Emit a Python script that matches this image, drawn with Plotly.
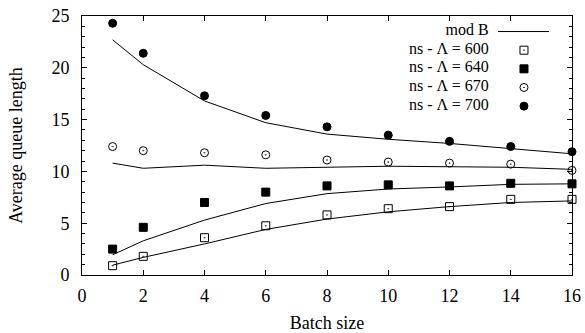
import plotly.graph_objects as go

batch = [1, 2, 4, 6, 8, 10, 12, 14, 16]

ns_600 = [0.9, 1.8, 3.6, 4.75, 5.8, 6.4, 6.6, 7.3, 7.3]
ns_640 = [2.5, 4.6, 7.0, 8.0, 8.6, 8.7, 8.6, 8.85, 8.8]
ns_670 = [12.4, 12.0, 11.8, 11.6, 11.1, 10.9, 10.8, 10.7, 10.1]
ns_700 = [24.3, 21.4, 17.3, 15.4, 14.3, 13.5, 12.9, 12.4, 11.9]

modB_600 = [0.95, 1.7, 3.0, 4.4, 5.4, 6.1, 6.6, 7.0, 7.15]
modB_640 = [1.95, 3.3, 5.3, 6.9, 7.85, 8.3, 8.5, 8.75, 8.8]
modB_670 = [10.8, 10.3, 10.6, 10.3, 10.4, 10.5, 10.45, 10.4, 10.2]
modB_700 = [22.7, 20.3, 16.8, 14.7, 13.6, 13.1, 12.7, 12.2, 11.7]

legend_labels = ["mod B", "ns - Λ = 600", "ns - Λ = 640", "ns - Λ = 670", "ns - Λ = 700"]

FONT = "Liberation Serif"
FS = 18
LFS = 16
fig = go.Figure()

for m in [modB_600, modB_640, modB_670, modB_700]:
    fig.add_trace(go.Scatter(x=batch, y=m, mode="lines",
                             line=dict(color="black", width=1), showlegend=False,
                             cliponaxis=False))

symbols = ["square-open-dot", "square", "circle-open-dot", "circle"]
series = [ns_600, ns_640, ns_670, ns_700]
for s, sym in zip(series, symbols):
    fig.add_trace(go.Scatter(x=batch, y=s, mode="markers",
                             marker=dict(symbol=sym, size=8, color="black",
                                         line=dict(color="black", width=1)),
                             showlegend=False, cliponaxis=False))

# custom legend (text right-aligned, sample on the right), drawn on a hidden overlay axis
row_y = [0.942, 0.870, 0.798, 0.726, 0.654]
fig.add_trace(go.Scatter(x=[0.830] * len(legend_labels), y=row_y, mode="text",
                         text=legend_labels, textposition="middle left",
                         textfont=dict(family=FONT, size=LFS, color="black"),
                         xaxis="x2", yaxis="y2", showlegend=False, hoverinfo="skip",
                         cliponaxis=False))
fig.add_trace(go.Scatter(x=[0.849, 0.953], y=[0.940, 0.940], mode="lines",
                         line=dict(color="black", width=1), xaxis="x2", yaxis="y2",
                         showlegend=False, hoverinfo="skip", cliponaxis=False))
for sym, yy in zip(symbols, [0.868, 0.796, 0.724, 0.652]):
    fig.add_trace(go.Scatter(x=[0.902], y=[yy], mode="markers",
                             marker=dict(symbol=sym, size=8, color="black",
                                         line=dict(color="black", width=1)),
                             xaxis="x2", yaxis="y2", showlegend=False,
                             hoverinfo="skip", cliponaxis=False))

axis_common = dict(showgrid=False, zeroline=False, showline=True, linecolor="black",
                   linewidth=1, mirror="allticks", ticks="inside", tickcolor="black",
                   automargin=False,
                   tickfont=dict(family=FONT, size=FS, color="black"))

fig.update_layout(
    width=585, height=333,
    margin=dict(l=82, r=13, t=16, b=58),
    paper_bgcolor="white", plot_bgcolor="white",
    font=dict(family=FONT, size=FS, color="black"),
    xaxis=dict(range=[0, 16], dtick=2, tick0=0, ticklen=5,
               title=dict(text="Batch size", font=dict(family=FONT, size=FS, color="black"), standoff=12),
               ticklabelstandoff=4, **axis_common),
    yaxis=dict(range=[0, 25], dtick=5, tick0=0, ticklen=5,
               minor=dict(dtick=1, ticklen=3, ticks="inside", tickcolor="black"),
               title=dict(text="Average queue length", font=dict(family=FONT, size=FS, color="black"), standoff=24),
               ticklabelstandoff=8, **axis_common),
    xaxis2=dict(range=[0, 1], overlaying="x", visible=False, fixedrange=True),
    yaxis2=dict(range=[0, 1], overlaying="y", visible=False, fixedrange=True),
    showlegend=False,
)

fig.write_html("out.html")
